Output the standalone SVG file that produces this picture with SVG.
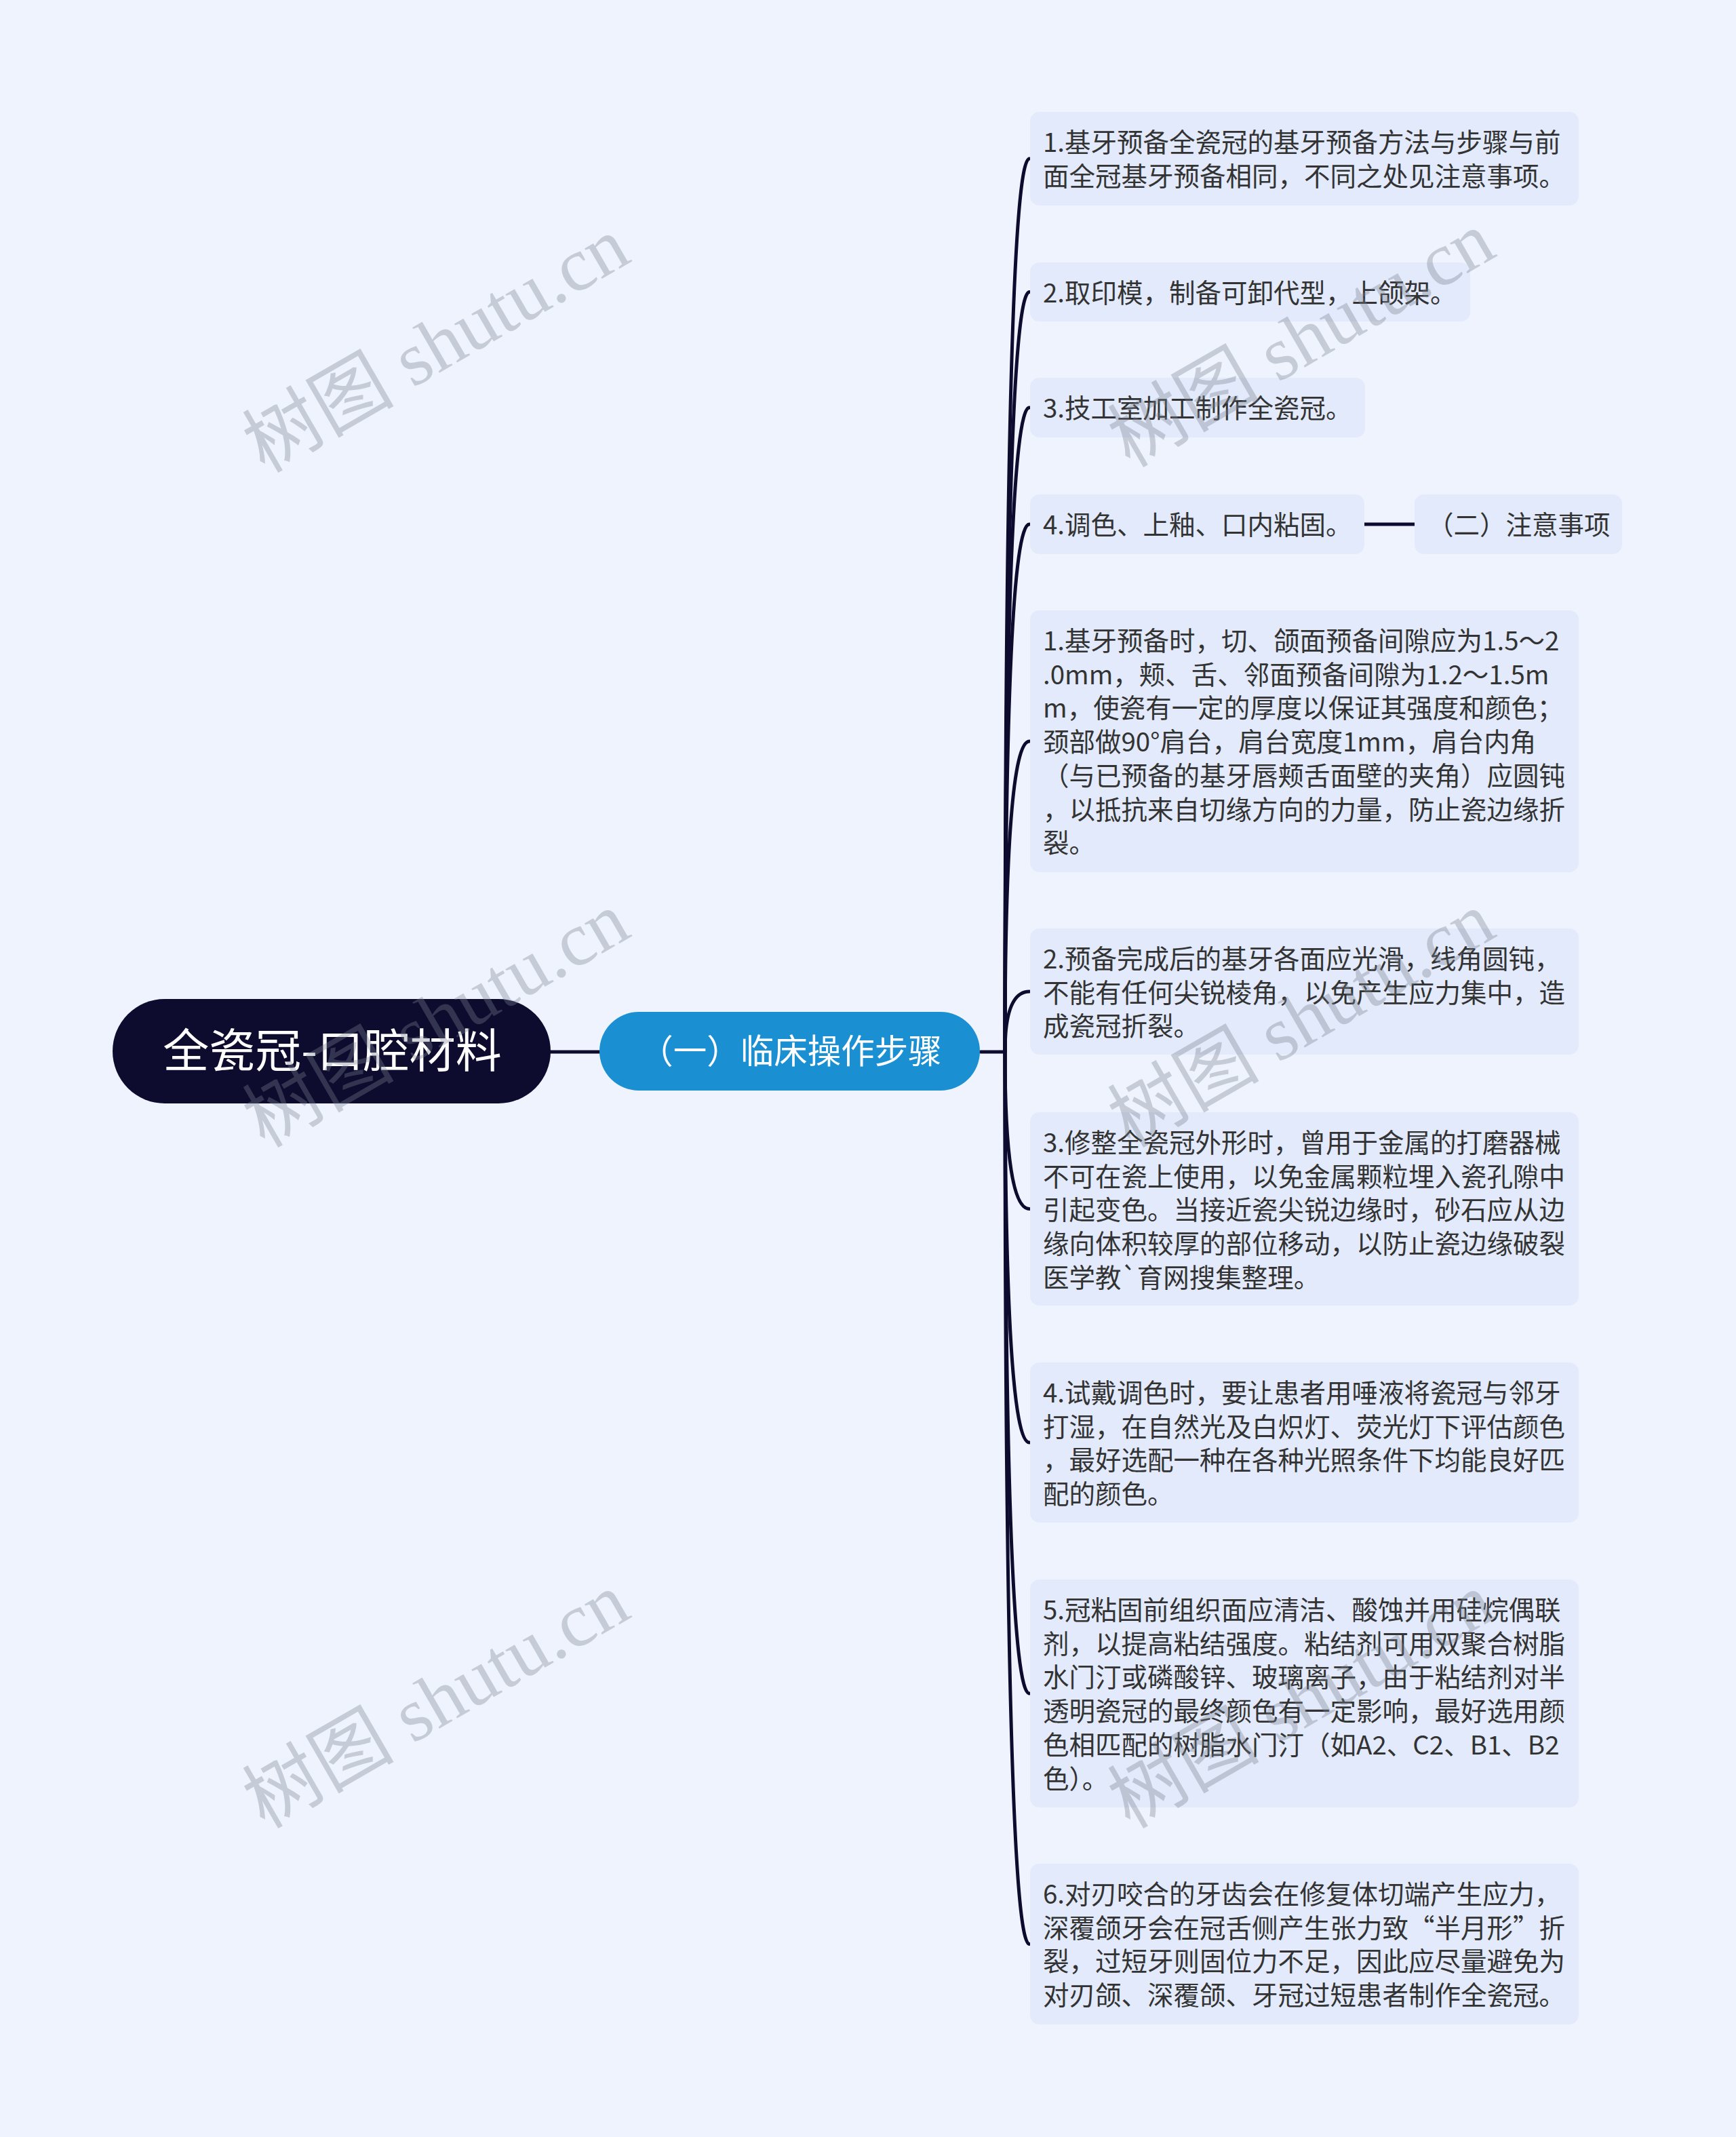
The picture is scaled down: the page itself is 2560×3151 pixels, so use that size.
<svg xmlns="http://www.w3.org/2000/svg" width="2560" height="3151" viewBox="0 0 2560 3151">
<style>
.bg{fill:#eef3fe}
.box{fill:#e2eafb}
.t{font-family:"Noto Sans CJK SC","Noto Sans",sans-serif;font-size:38.5px;fill:#333333}
.root{fill:#0d0b2e}
.rootT{font-family:"Noto Sans CJK SC","Noto Sans",sans-serif;font-size:68px;fill:#ffffff}
.l1{fill:#1a8fd2}
.l1T{font-family:"Noto Sans CJK SC","Noto Sans",sans-serif;font-size:49.5px;fill:#ffffff}
.c{fill:none;stroke:#0d0b2e;stroke-width:5;stroke-linecap:round}
.wm{font-family:"Liberation Serif","Noto Sans CJK SC",serif;font-size:112px;fill:#78808f;fill-opacity:0.35}
</style>
<rect class="bg" x="0" y="0" width="2560" height="3151"/>
<g id="connectors">
<path class="c" d="M812 1551 H884"/>
<path class="c" d="M1446 1551 H1482"/>
<path class="c" d="M1482 1551 Q1482 234 1518 234"/>
<path class="c" d="M1482 1551 Q1482 430.5 1518 430.5"/>
<path class="c" d="M1482 1551 Q1482 601 1518 601"/>
<path class="c" d="M1482 1551 Q1482 773 1518 773"/>
<path class="c" d="M1482 1551 Q1482 1093 1518 1093"/>
<path class="c" d="M1482 1551 Q1482 1462 1518 1462"/>
<path class="c" d="M1482 1551 Q1482 1782.5 1518 1782.5"/>
<path class="c" d="M1482 1551 Q1482 2127 1518 2127"/>
<path class="c" d="M1482 1551 Q1482 2497 1518 2497"/>
<path class="c" d="M1482 1551 Q1482 2866.5 1518 2866.5"/>
<path class="c" d="M2012 773 H2086"/>
</g>
<g id="root">
<rect class="root" x="166" y="1473" width="646" height="154" rx="77"/>
<text class="rootT" x="490" y="1574" text-anchor="middle">全瓷冠-口腔材料</text>
</g>
<g id="step1">
<rect class="l1" x="884" y="1492" width="561" height="116" rx="58"/>
<text class="l1T" x="1166" y="1568" text-anchor="middle">（一）临床操作步骤</text>
</g>
<g id="n1">
<rect class="box" x="1519" y="165" width="809" height="138" rx="14"/>
<text class="t" x="1538" y="224">1.基牙预备全瓷冠的基牙预备方法与步骤与前<tspan x="1538" y="273.7">面全冠基牙预备相同，不同之处见注意事项。</tspan></text>
</g>
<g id="n2">
<rect class="box" x="1519" y="387" width="649" height="87" rx="14"/>
<text class="t" x="1538" y="446">2.取印模，制备可卸代型，上颌架。</text>
</g>
<g id="n3">
<rect class="box" x="1519" y="557" width="494" height="88" rx="14"/>
<text class="t" x="1538" y="616">3.技工室加工制作全瓷冠。</text>
</g>
<g id="n4">
<rect class="box" x="1519" y="729" width="493" height="88" rx="14"/>
<text class="t" x="1538" y="788">4.调色、上釉、口内粘固。</text>
</g>
<g id="step2">
<rect class="box" x="2086" y="729" width="306" height="88" rx="14"/>
<text class="t" x="2105" y="788">（二）注意事项</text>
</g>
<g id="m1">
<rect class="box" x="1519" y="900" width="809" height="386" rx="14"/>
<text class="t" x="1538" y="959">1.基牙预备时，切、颌面预备间隙应为1.5～2<tspan x="1538" y="1008.7">.0mm，颊、舌、邻面预备间隙为1.2～1.5m</tspan><tspan x="1538" y="1058.4">m，使瓷有一定的厚度以保证其强度和颜色；</tspan><tspan x="1538" y="1108.1">颈部做90°肩台，肩台宽度1mm，肩台内角</tspan><tspan x="1538" y="1157.8">（与已预备的基牙唇颊舌面壁的夹角）应圆钝</tspan><tspan x="1538" y="1207.5">，以抵抗来自切缘方向的力量，防止瓷边缘折</tspan><tspan x="1538" y="1257.2">裂。</tspan></text>
</g>
<g id="m2">
<rect class="box" x="1519" y="1369" width="809" height="186" rx="14"/>
<text class="t" x="1538" y="1428">2.预备完成后的基牙各面应光滑，线角圆钝，<tspan x="1538" y="1477.7">不能有任何尖锐棱角，以免产生应力集中，造</tspan><tspan x="1538" y="1527.4">成瓷冠折裂。</tspan></text>
</g>
<g id="m3">
<rect class="box" x="1519" y="1640" width="809" height="285" rx="14"/>
<text class="t" x="1538" y="1699">3.修整全瓷冠外形时，曾用于金属的打磨器械<tspan x="1538" y="1748.7">不可在瓷上使用，以免金属颗粒埋入瓷孔隙中</tspan><tspan x="1538" y="1798.4">引起变色。当接近瓷尖锐边缘时，砂石应从边</tspan><tspan x="1538" y="1848.1">缘向体积较厚的部位移动，以防止瓷边缘破裂</tspan><tspan x="1538" y="1897.8">医学教`育网搜集整理。</tspan></text>
</g>
<g id="m4">
<rect class="box" x="1519" y="2009" width="809" height="236" rx="14"/>
<text class="t" x="1538" y="2068">4.试戴调色时，要让患者用唾液将瓷冠与邻牙<tspan x="1538" y="2117.7">打湿，在自然光及白炽灯、荧光灯下评估颜色</tspan><tspan x="1538" y="2167.4">，最好选配一种在各种光照条件下均能良好匹</tspan><tspan x="1538" y="2217.1">配的颜色。</tspan></text>
</g>
<g id="m5">
<rect class="box" x="1519" y="2329" width="809" height="336" rx="14"/>
<text class="t" x="1538" y="2388">5.冠粘固前组织面应清洁、酸蚀并用硅烷偶联<tspan x="1538" y="2437.7">剂，以提高粘结强度。粘结剂可用双聚合树脂</tspan><tspan x="1538" y="2487.4">水门汀或磷酸锌、玻璃离子，由于粘结剂对半</tspan><tspan x="1538" y="2537.1">透明瓷冠的最终颜色有一定影响，最好选用颜</tspan><tspan x="1538" y="2586.8">色相匹配的树脂水门汀（如A2、C2、B1、B2</tspan><tspan x="1538" y="2636.5">色）。</tspan></text>
</g>
<g id="m6">
<rect class="box" x="1519" y="2748" width="809" height="237" rx="14"/>
<text class="t" x="1538" y="2807">6.对刃咬合的牙齿会在修复体切端产生应力，<tspan x="1538" y="2856.7">深覆颌牙会在冠舌侧产生张力致“半月形”折</tspan><tspan x="1538" y="2906.4">裂，过短牙则固位力不足，因此应尽量避免为</tspan><tspan x="1538" y="2956.1">对刃颌、深覆颌、牙冠过短患者制作全瓷冠。</tspan></text>
</g>
<g id="watermarks">
<text class="wm" transform="translate(645 512) rotate(-30)" x="0" y="34" text-anchor="middle">树图 shutu.cn</text>
<text class="wm" transform="translate(1921 504) rotate(-30)" x="0" y="34" text-anchor="middle">树图 shutu.cn</text>
<text class="wm" transform="translate(645 1507) rotate(-30)" x="0" y="34" text-anchor="middle">树图 shutu.cn</text>
<text class="wm" transform="translate(1921 1507) rotate(-30)" x="0" y="34" text-anchor="middle">树图 shutu.cn</text>
<text class="wm" transform="translate(645 2511) rotate(-30)" x="0" y="34" text-anchor="middle">树图 shutu.cn</text>
<text class="wm" transform="translate(1921 2511) rotate(-30)" x="0" y="34" text-anchor="middle">树图 shutu.cn</text>
</g>
</svg>
